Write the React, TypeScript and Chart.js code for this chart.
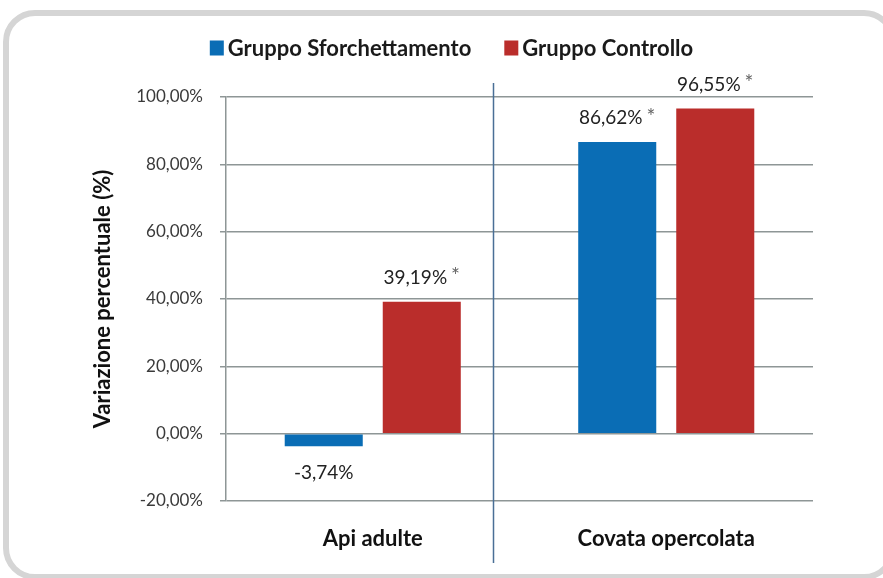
import React, { useEffect, useRef } from "react";
import { Chart, registerables } from "chart.js";

Chart.register(...registerables);

const categories = ["Api adulte", "Covata opercolata"];
const seriesNames = ["Gruppo Sforchettamento", "Gruppo Controllo"];
const sforchettamento = [-3.74, 86.62];
const controllo = [39.19, 96.55];
const sforchettamentoStar = [false, true];
const controlloStar = [true, true];
const yMin = -20;
const yMax = 100;
const yStep = 20;
const dividerAt = 0.41; // category-index position of the divider line

const BLUE = "#0a6db5";
const RED = "#ba2d2b";
const FONT = "Lato, 'Open Sans', sans-serif";

const fmt = (v: number) => v.toFixed(2).replace(".", ",") + "%";

const legendPlugin = {
  id: "customLegend",
  afterDraw(chart: any) {
    const ctx = chart.ctx;
    const pad = chart.options.layout.padding;
    const center = (pad.left + chart.width - pad.right) / 2;
    const box = 14;
    const gapText = 4;
    const gapItems = 33;
    ctx.save();
    ctx.font = `bold 22px ${FONT}`;
    const items = chart.data.datasets.map((ds: any) => ({
      text: ds.label,
      color: ds.backgroundColor,
      w: ctx.measureText(ds.label).width,
    }));
    const total =
      items.reduce((a: number, it: any) => a + box + gapText + it.w, 0) + gapItems * (items.length - 1);
    let x = center - total / 2;
    const y = 48;
    ctx.textBaseline = "middle";
    ctx.textAlign = "left";
    items.forEach((it: any) => {
      ctx.fillStyle = it.color;
      ctx.fillRect(x, y - 7.5, box, 15);
      ctx.fillStyle = "#1a1a1a";
      ctx.fillText(it.text, x + box + gapText, y + 1);
      x += box + gapText + it.w + gapItems;
    });
    ctx.restore();
  },
};

const labelPlugin = {
  id: "valueLabels",
  afterDatasetsDraw(chart: any) {
    const ctx = chart.ctx;
    const stars = [sforchettamentoStar, controlloStar];
    chart.data.datasets.forEach((ds: any, di: number) => {
      const meta = chart.getDatasetMeta(di);
      meta.data.forEach((bar: any, i: number) => {
        const v = ds.data[i] as number;
        const main = fmt(v);
        const star = stars[di][i] ? "*" : "";
        ctx.save();
        ctx.font = `19px ${FONT}`;
        const wMain = ctx.measureText(main).width;
        ctx.font = `21px ${FONT}`;
        const gap = 4;
        const wStar = star ? ctx.measureText(star).width + gap : 0;
        const total = wMain + wStar;
        const x0 = bar.x - total / 2;
        const y = v >= 0 ? bar.y - 24 : bar.y + 27;
        ctx.fillStyle = "#222";
        ctx.textBaseline = "middle";
        ctx.textAlign = "left";
        ctx.font = `19px ${FONT}`;
        ctx.fillText(main, x0, y);
        if (star) {
          ctx.font = `21px ${FONT}`;
          ctx.fillStyle = "#666";
          ctx.fillText(star, x0 + wMain + gap, y - 1);
        }
        ctx.restore();
      });
    });
  },
};

const dividerPlugin = {
  id: "divider",
  afterDraw(chart: any) {
    const xs = chart.scales.x;
    const area = chart.chartArea;
    const p0 = xs.getPixelForValue(0);
    const p1 = xs.getPixelForValue(1);
    const x = Math.round(p0 + dividerAt * (p1 - p0)) + 0.5;
    const ctx = chart.ctx;
    ctx.save();
    ctx.strokeStyle = "#4a6f96";
    ctx.lineWidth = 1.5;
    ctx.beginPath();
    ctx.moveTo(x, area.top - 14);
    ctx.lineTo(x, area.bottom + 62);
    ctx.stroke();
    ctx.restore();
  },
};

export default function App() {
  const ref = useRef<HTMLCanvasElement | null>(null);
  useEffect(() => {
    if (!ref.current) return;
    const chart = new Chart(ref.current, {
      type: "bar",
      data: {
        labels: categories,
        datasets: [
          {
            label: seriesNames[0],
            data: sforchettamento,
            backgroundColor: BLUE,
            barPercentage: 0.796,
            categoryPercentage: 0.668,
          },
          {
            label: seriesNames[1],
            data: controllo,
            backgroundColor: RED,
            barPercentage: 0.796,
            categoryPercentage: 0.668,
          },
        ],
      },
      options: {
        animation: false,
        responsive: false,
        maintainAspectRatio: false,
        layout: { padding: { left: 90, right: 70, top: 97, bottom: 0 } },
        plugins: {
          tooltip: { enabled: false },
          legend: { display: false },
        },
        scales: {
          x: {
            type: "category",
            offset: true,
            grid: { display: false, drawTicks: false },
            border: { display: false },
            ticks: {
              padding: 25,
              color: "#111",
              font: { family: FONT, size: 22, weight: "bold" },
            },
            afterFit: (s: any) => {
              s.height = 77;
            },
          },
          y: {
            min: yMin,
            max: yMax,
            ticks: {
              stepSize: yStep,
              padding: 17,
              color: "#3a3a3a",
              font: { family: FONT, size: 17 },
              callback: (v: any) => fmt(Number(v)),
            },
            grid: { color: "#8e9696", lineWidth: 1.5, tickLength: 6 },
            border: { display: true, color: "#8e9696", width: 1.5 },
            title: {
              display: true,
              text: "Variazione percentuale (%)",
              color: "#111",
              font: { family: FONT, size: 22, weight: "bold" },
              padding: { top: 0, bottom: 0 },
            },
            afterFit: (s: any) => {
              s.width = 136;
            },
          },
        },
      },
      plugins: [labelPlugin, dividerPlugin, legendPlugin],
    });
    return () => chart.destroy();
  }, []);

  return (
    <div style={{ position: "absolute", left: 0, top: 0, width: 883, height: 578, background: "#fff", overflow: "hidden" }}>
      <div
        style={{
          position: "absolute",
          left: 3,
          top: 10,
          width: 893,
          height: 570,
          boxSizing: "border-box",
          border: "6px solid #d5d5d5",
          borderRadius: 32,
        }}
      />
      <canvas ref={ref} width={883} height={578} style={{ position: "absolute", left: 0, top: 0, width: 883, height: 578 }} />
    </div>
  );
}
